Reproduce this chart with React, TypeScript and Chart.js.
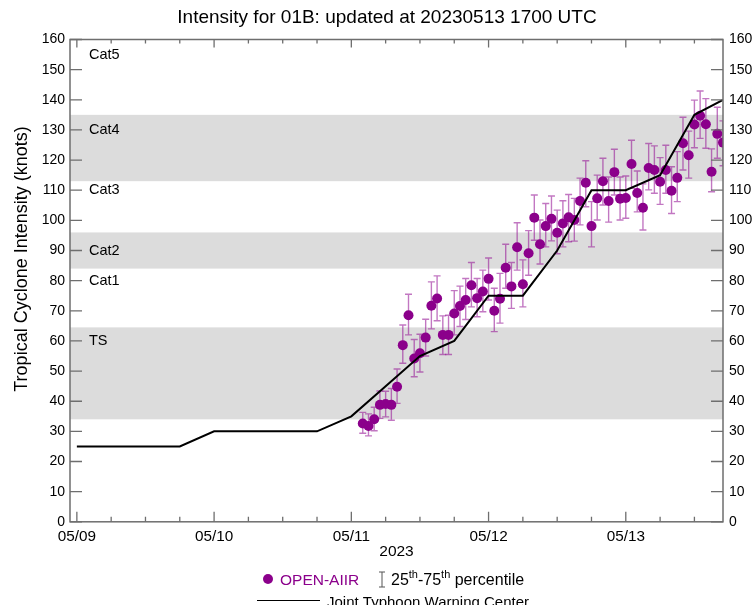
import React, { useEffect, useRef } from "react";
import { Chart, registerables } from "chart.js";
Chart.register(...registerables);

const FONT = "'Liberation Sans', Arial, Helvetica, sans-serif";

const titleText = "Intensity for 01B: updated at 20230513 1700 UTC";
const yTitle = "Tropical Cyclone Intensity (knots)";
const yearLabel = "2023";

// hours since 05/09 00Z
const dayHours = [0, 24, 48, 72, 96];
const dayLabels = ["05/09", "05/10", "05/11", "05/12", "05/13"];
const yTickValues = [0, 10, 20, 30, 40, 50, 60, 70, 80, 90, 100, 110, 120, 130, 140, 150, 160];

const jtwcHours = [0, 18, 24, 42, 48, 54, 60, 66, 72, 78, 84, 90, 96, 102, 108, 113];
const jtwcKnots = [25, 25, 30, 30, 35, 45, 55, 60, 75, 75, 90, 110, 110, 115, 135, 140];

const aiirHours = [
  50, 51, 52, 53, 54, 55, 56, 57, 58, 59, 60, 61, 62, 63, 64, 65,
  66, 67, 68, 69, 70, 71, 72, 73, 74, 75, 76, 77, 78, 79, 80, 81,
  82, 83, 84, 85, 86, 87, 88, 89, 90, 91, 92, 93, 94, 95, 96, 97,
  98, 99, 100, 101, 102, 103, 104, 105, 106, 107, 108, 109, 110, 111, 112, 113,
];
const aiirKnots = [
  32.6, 31.8, 34.0, 38.8, 39.1, 38.8, 44.8, 58.6, 68.5, 54.2, 55.9, 61.1, 71.7, 74.1, 62.0, 62.0,
  69.1, 71.6, 73.6, 78.5, 74.2, 76.4, 80.6, 70.0, 74.0, 84.3, 78.1, 91.1, 78.8, 89.1, 100.9, 92.1,
  98.1, 100.5, 95.9, 99.0, 101.0, 100.1, 106.4, 112.5, 98.1, 107.3, 113.0, 106.4, 116.0, 107.2, 107.4, 118.7,
  109.1, 104.2, 117.4, 116.7, 112.8, 116.7, 109.8, 114.1, 125.6, 121.6, 131.8, 134.7, 131.9, 116.1, 128.7, 125.8,
];
const aiirP25 = [
  29.4, 28.5, 30.2, 34.3, 34.8, 33.7, 39.3, 52.6, 62.0, 48.1, 49.7, 55.0, 64.0, 66.7, 55.5, 55.5,
  62.0, 64.8, 67.1, 71.3, 68.0, 69.7, 73.6, 63.1, 65.9, 77.5, 70.8, 83.5, 71.3, 81.8, 93.4, 85.5,
  91.2, 93.2, 88.9, 91.2, 92.9, 93.1, 98.5, 104.5, 91.2, 100.1, 105.1, 99.4, 108.4, 100.1, 100.7, 110.6,
  102.8, 96.8, 110.1, 109.0, 105.3, 109.0, 102.3, 106.2, 116.7, 114.0, 124.1, 127.2, 123.9, 109.5, 120.6, 118.1,
];
const aiirP75 = [
  36.3, 35.8, 38.0, 43.4, 43.3, 44.2, 50.7, 65.3, 75.5, 60.5, 62.2, 67.2, 79.6, 81.6, 68.3, 68.5,
  76.7, 78.2, 80.7, 86.0, 80.7, 83.5, 87.5, 77.5, 82.4, 92.1, 86.0, 99.2, 86.9, 96.6, 108.4, 100.1,
  105.6, 108.1, 103.4, 106.5, 108.6, 107.3, 114.0, 119.8, 106.2, 115.0, 120.6, 114.4, 123.6, 114.4, 114.7, 126.6,
  116.4, 112.1, 125.5, 124.7, 120.8, 124.9, 117.8, 122.8, 134.2, 129.6, 139.9, 142.9, 140.4, 123.7, 137.5, 133.0,
];

const bandLow = [34, 84, 113];
const bandHigh = [64.5, 96, 135];
const catNames = ["Cat5", "Cat4", "Cat3", "Cat2", "Cat1", "TS"];
const catLevels = [155, 130, 110, 90, 80, 60];

const PURPLE = "#8B008B";
const AXIS = "#6e6e6e";

const decor = {
  id: "decor",
  beforeDatasetsDraw(chart: any) {
    const { ctx, chartArea: a, scales } = chart;
    const x = scales.x;
    const y = scales.y;
    ctx.save();
    ctx.beginPath();
    ctx.rect(a.left, a.top, a.right - a.left, a.bottom - a.top);
    ctx.clip();
    ctx.fillStyle = "#dcdcdc";
    bandLow.forEach((lo, i) => {
      const y1 = y.getPixelForValue(bandHigh[i]);
      const y2 = y.getPixelForValue(lo);
      ctx.fillRect(a.left, y1, a.right - a.left, y2 - y1);
    });
    ctx.strokeStyle = "rgba(150,20,150,0.58)";
    ctx.lineWidth = 1.4;
    aiirHours.forEach((h, i) => {
      const px = x.getPixelForValue(h);
      const t = y.getPixelForValue(aiirP75[i]);
      const b = y.getPixelForValue(aiirP25[i]);
      ctx.beginPath();
      ctx.moveTo(px, t);
      ctx.lineTo(px, b);
      ctx.moveTo(px - 3.5, t);
      ctx.lineTo(px + 3.5, t);
      ctx.moveTo(px - 3.5, b);
      ctx.lineTo(px + 3.5, b);
      ctx.stroke();
    });
    ctx.restore();

    ctx.save();
    ctx.fillStyle = "#000";
    ctx.font = `14.5px ${FONT}`;
    ctx.textAlign = "left";
    ctx.textBaseline = "middle";
    catNames.forEach((n, i) => {
      ctx.fillText(n, a.left + 19, y.getPixelForValue(catLevels[i]));
    });
    ctx.restore();
  },
  afterDraw(chart: any) {
    const { ctx, chartArea: a, scales } = chart;
    const x = scales.x;
    const y = scales.y;
    ctx.save();
    // frame
    ctx.strokeStyle = AXIS;
    ctx.lineWidth = 1.5;
    ctx.strokeRect(a.left, a.top, a.right - a.left, a.bottom - a.top);
    // y ticks both sides (inward)
    ctx.lineWidth = 1.3;
    ctx.beginPath();
    yTickValues.forEach((v) => {
      const py = y.getPixelForValue(v);
      ctx.moveTo(a.left, py);
      ctx.lineTo(a.left + 12, py);
      ctx.moveTo(a.right, py);
      ctx.lineTo(a.right - 12, py);
    });
    // x ticks top & bottom
    for (let h = 0; h <= x.max; h += 6) {
      const px = x.getPixelForValue(h);
      const major = h % 24 === 0;
      ctx.moveTo(px, a.bottom);
      ctx.lineTo(px, a.bottom - (major ? 10 : 5));
      ctx.moveTo(px, a.top);
      ctx.lineTo(px, a.top + (major ? 8 : 4));
    }
    ctx.stroke();

    // title
    ctx.fillStyle = "#000";
    ctx.textAlign = "center";
    ctx.textBaseline = "middle";
    ctx.font = `19px ${FONT}`;
    ctx.fillText(titleText, 387, 18);

    // year
    ctx.font = `15.5px ${FONT}`;
    ctx.fillText(yearLabel, (a.left + a.right) / 2, 552);

    // y title
    ctx.save();
    ctx.translate(22.5, 259);
    ctx.rotate(-Math.PI / 2);
    ctx.font = `18px ${FONT}`;
    ctx.fillText(yTitle, 0, 0);
    ctx.restore();

    // legend row 1
    ctx.textAlign = "left";
    ctx.textBaseline = "alphabetic";
    ctx.fillStyle = PURPLE;
    ctx.beginPath();
    ctx.arc(268, 579, 5, 0, Math.PI * 2);
    ctx.fill();
    ctx.font = `15.5px ${FONT}`;
    ctx.fillText("OPEN-AIIR", 280, 584.5);

    ctx.strokeStyle = "#555";
    ctx.lineWidth = 1;
    ctx.beginPath();
    ctx.moveTo(382, 572);
    ctx.lineTo(382, 587);
    ctx.moveTo(379, 572);
    ctx.lineTo(385, 572);
    ctx.moveTo(379, 587);
    ctx.lineTo(385, 587);
    ctx.stroke();

    ctx.fillStyle = "#000";
    const parts: [string, boolean][] = [
      ["25", false],
      ["th", true],
      ["-75", false],
      ["th", true],
      [" percentile", false],
    ];
    let cx = 391;
    parts.forEach(([t, sup]) => {
      ctx.font = sup ? `11px ${FONT}` : `16px ${FONT}`;
      ctx.fillText(t, cx, sup ? 578 : 584.5);
      cx += ctx.measureText(t).width;
    });

    // legend row 2
    ctx.strokeStyle = "#000";
    ctx.lineWidth = 1;
    ctx.beginPath();
    ctx.moveTo(257, 600.5);
    ctx.lineTo(320, 600.5);
    ctx.stroke();
    ctx.font = `15px ${FONT}`;
    ctx.fillText("Joint Typhoon Warning Center", 327, 606.5);
    ctx.restore();
  },
};

const yScale = (position: "left" | "right", width: number, padding: number) => ({
  type: "linear" as const,
  position,
  min: 0,
  max: 160,
  grid: { display: false, drawTicks: false },
  border: { display: false },
  afterBuildTicks: (s: any) => {
    s.ticks = yTickValues.map((v) => ({ value: v }));
  },
  ticks: {
    color: "#000",
    font: { size: 14, family: FONT },
    padding,
    autoSkip: false,
  },
  afterFit: (s: any) => {
    s.width = width;
  },
});

export default function App() {
  const ref = useRef<HTMLCanvasElement | null>(null);
  useEffect(() => {
    if (!ref.current) return;
    const chart = new Chart(ref.current, {
      type: "scatter",
      data: {
        datasets: [
          {
            type: "line",
            label: "Joint Typhoon Warning Center",
            data: jtwcHours.map((h, i) => ({ x: h, y: jtwcKnots[i] })),
            borderColor: "#000",
            borderWidth: 2,
            pointRadius: 0,
            tension: 0,
            fill: false,
            clip: 0,
          } as any,
          {
            type: "scatter",
            label: "OPEN-AIIR",
            data: aiirHours.map((h, i) => ({ x: h, y: aiirKnots[i] })),
            backgroundColor: PURPLE,
            pointBackgroundColor: PURPLE,
            pointBorderWidth: 0,
            pointRadius: 5,
            clip: 0,
          } as any,
        ],
      },
      options: {
        responsive: false,
        animation: false,
        devicePixelRatio: 1,
        layout: { padding: { top: 39.5, left: 0, right: 0, bottom: 0 } },
        plugins: {
          legend: { display: false },
          title: { display: false },
          tooltip: { enabled: false },
        },
        scales: {
          x: {
            type: "linear",
            position: "bottom",
            min: -1.2,
            max: 113,
            grid: { display: false, drawTicks: false },
            border: { display: false },
            afterBuildTicks: (s: any) => {
              s.ticks = dayHours.map((v) => ({ value: v }));
            },
            ticks: {
              color: "#000",
              font: { size: 15.3, family: FONT },
              padding: 6,
              maxRotation: 0,
              autoSkip: false,
              callback: (v: any) => {
                const i = dayHours.indexOf(Number(v));
                return i >= 0 ? dayLabels[i] : "";
              },
            },
            afterFit: (s: any) => {
              s.height = 83.2;
            },
          },
          y: yScale("left", 70, 5),
          y2: yScale("right", 33, 6),
        } as any,
      },
      plugins: [decor],
    });
    return () => chart.destroy();
  }, []);
  return (
    <div style={{ position: "absolute", left: 0, top: 0, width: 756, height: 605 }}>
      <canvas ref={ref} width={756} height={605} />
    </div>
  );
}
